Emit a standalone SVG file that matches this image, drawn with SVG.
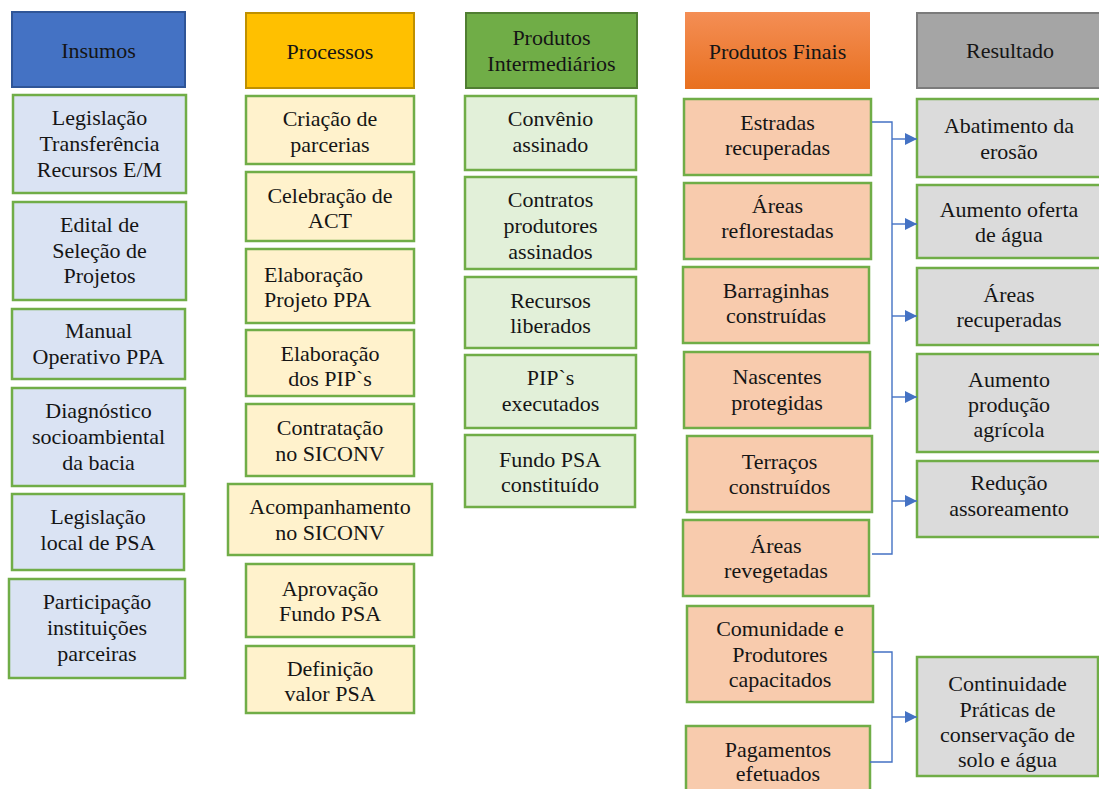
<svg xmlns="http://www.w3.org/2000/svg" width="1099" height="789" viewBox="0 0 1099 789">
<style>
text{font-family:"Liberation Serif","Times New Roman",serif;font-size:22px;fill:#151515;text-anchor:middle}
.b{stroke:#70AD47;stroke-width:2.5}
.ins{fill:#DAE3F3}
.pro{fill:#FFF2CC}
.pi{fill:#E2F0D9}
.pf{fill:#F8CBAD}
.res{fill:#DBDBDB}
.con{fill:none;stroke:#4472C4;stroke-width:1.4}
</style>
<defs>
<linearGradient id="og" x1="0" y1="0" x2="0" y2="1">
<stop offset="0" stop-color="#F48E55"/>
<stop offset="1" stop-color="#E8701F"/>
</linearGradient>
<marker id="ah" markerWidth="12" markerHeight="12" refX="12" refY="6" orient="auto" markerUnits="userSpaceOnUse">
<path d="M0,0 L12,6 L0,12 Z" fill="#4472C4"/>
</marker>
</defs>
<rect width="1099" height="789" fill="#fff"/>

<!-- headers -->
<g id="h-insumos"><rect x="12" y="12" width="173" height="75" fill="#4472C4" stroke="#2F5597" stroke-width="2"/><text x="98.5" y="58">Insumos</text></g>
<g id="h-processos"><rect x="246" y="13" width="168" height="75" fill="#FFC000" stroke="#BF9000" stroke-width="2"/><text x="330" y="59">Processos</text></g>
<g id="h-intermediarios"><rect x="466" y="13" width="171" height="75" fill="#70AD47" stroke="#507E32" stroke-width="2"/><text x="551.5" y="45">Produtos</text><text x="551.5" y="71">Intermediários</text></g>
<g id="h-finais"><rect x="685" y="12" width="185" height="77" fill="url(#og)"/><text x="777.5" y="59">Produtos Finais</text></g>
<g id="h-resultado"><rect x="917" y="13" width="186" height="75" fill="#A5A5A5" stroke="#7B7B7B" stroke-width="2"/><text x="1010" y="58">Resultado</text></g>

<!-- Insumos -->
<g id="i1"><rect class="b ins" x="13" y="95" width="173" height="98"/><text x="99.5" y="125">Legislação</text><text x="99.5" y="151">Transferência</text><text x="99.5" y="177">Recursos E/M</text></g>
<g id="i2"><rect class="b ins" x="13" y="202" width="173" height="98"/><text x="99.5" y="232">Edital de</text><text x="99.5" y="258">Seleção de</text><text x="99.5" y="283">Projetos</text></g>
<g id="i3"><rect class="b ins" x="12" y="309" width="173" height="70"/><text x="98.5" y="338">Manual</text><text x="98.5" y="364">Operativo PPA</text></g>
<g id="i4"><rect class="b ins" x="12" y="388" width="173" height="98"/><text x="98.5" y="418">Diagnóstico</text><text x="98.5" y="444">socioambiental</text><text x="98.5" y="470">da bacia</text></g>
<g id="i5"><rect class="b ins" x="12" y="494" width="172" height="76"/><text x="98" y="524">Legislação</text><text x="98" y="550">local de PSA</text></g>
<g id="i6"><rect class="b ins" x="9" y="579" width="176" height="99"/><text x="97" y="609">Participação</text><text x="97" y="635">instituições</text><text x="97" y="661">parceiras</text></g>

<!-- Processos -->
<g id="p1"><rect class="b pro" x="246" y="96" width="168" height="68"/><text x="330" y="126">Criação de</text><text x="330" y="152">parcerias</text></g>
<g id="p2"><rect class="b pro" x="246" y="172" width="168" height="69"/><text x="330" y="203">Celebração de</text><text x="330" y="228">ACT</text></g>
<g id="p3"><rect class="b pro" x="246" y="249" width="168" height="74"/><text x="264" y="282" style="text-anchor:start">Elaboração</text><text x="264" y="307" style="text-anchor:start">Projeto PPA</text></g>
<g id="p4"><rect class="b pro" x="246" y="330" width="168" height="66"/><text x="330" y="361">Elaboração</text><text x="330" y="386">dos PIP`s</text></g>
<g id="p5"><rect class="b pro" x="246" y="404" width="168" height="72"/><text x="330" y="435">Contratação</text><text x="330" y="461">no SICONV</text></g>
<g id="p6"><rect class="b pro" x="228" y="484" width="204" height="71"/><text x="330" y="514">Acompanhamento</text><text x="330" y="540">no SICONV</text></g>
<g id="p7"><rect class="b pro" x="246" y="564" width="168" height="73"/><text x="330" y="596">Aprovação</text><text x="330" y="621">Fundo PSA</text></g>
<g id="p8"><rect class="b pro" x="246" y="646" width="168" height="67"/><text x="330" y="676">Definição</text><text x="330" y="701">valor PSA</text></g>

<!-- Produtos Intermediarios -->
<g id="m1"><rect class="b pi" x="465" y="96" width="171" height="74"/><text x="550.5" y="126">Convênio</text><text x="550.5" y="152">assinado</text></g>
<g id="m2"><rect class="b pi" x="465" y="177" width="171" height="92"/><text x="550.5" y="207">Contratos</text><text x="550.5" y="233">produtores</text><text x="550.5" y="259">assinados</text></g>
<g id="m3"><rect class="b pi" x="465" y="277" width="171" height="71"/><text x="550.5" y="308">Recursos</text><text x="550.5" y="333">liberados</text></g>
<g id="m4"><rect class="b pi" x="465" y="355" width="171" height="73"/><text x="550.5" y="385">PIP`s</text><text x="550.5" y="411">executados</text></g>
<g id="m5"><rect class="b pi" x="465" y="435" width="170" height="72"/><text x="550" y="467">Fundo PSA</text><text x="550" y="492">constituído</text></g>

<!-- Produtos Finais -->
<g id="f1"><rect class="b pf" x="684" y="99" width="187" height="76"/><text x="777.5" y="130">Estradas</text><text x="777.5" y="155">recuperadas</text></g>
<g id="f2"><rect class="b pf" x="684" y="183" width="187" height="76"/><text x="777.5" y="213">Áreas</text><text x="777.5" y="238">reflorestadas</text></g>
<g id="f3"><rect class="b pf" x="683" y="267" width="186" height="76"/><text x="776" y="298">Barraginhas</text><text x="776" y="323">construídas</text></g>
<g id="f4"><rect class="b pf" x="684" y="352" width="186" height="76"/><text x="777" y="384">Nascentes</text><text x="777" y="410">protegidas</text></g>
<g id="f5"><rect class="b pf" x="687" y="436" width="185" height="76"/><text x="779.5" y="469">Terraços</text><text x="779.5" y="494">construídos</text></g>
<g id="f6"><rect class="b pf" x="683" y="520" width="186" height="76"/><text x="776" y="553">Áreas</text><text x="776" y="578">revegetadas</text></g>
<g id="f7"><rect class="b pf" x="687" y="606" width="186" height="96"/><text x="780" y="636">Comunidade e</text><text x="780" y="662">Produtores</text><text x="780" y="687">capacitados</text></g>
<g id="f8"><rect class="b pf" x="686" y="726" width="184" height="68"/><text x="778" y="757">Pagamentos</text><text x="778" y="781">efetuados</text></g>

<!-- Resultado -->
<g id="r1"><rect class="b res" x="917" y="99" width="186" height="78"/><text x="1009" y="133">Abatimento da</text><text x="1009" y="159">erosão</text></g>
<g id="r2"><rect class="b res" x="917" y="185" width="186" height="73"/><text x="1009" y="217">Aumento oferta</text><text x="1009" y="242">de água</text></g>
<g id="r3"><rect class="b res" x="917" y="268" width="186" height="77"/><text x="1009" y="302">Áreas</text><text x="1009" y="327">recuperadas</text></g>
<g id="r4"><rect class="b res" x="917" y="354" width="186" height="98"/><text x="1009" y="387">Aumento</text><text x="1009" y="412">produção</text><text x="1009" y="437">agrícola</text></g>
<g id="r5"><rect class="b res" x="917" y="461" width="186" height="76"/><text x="1009" y="490">Redução</text><text x="1009" y="516">assoreamento</text></g>
<g id="r6"><rect class="b res" x="917" y="657" width="181" height="119"/><text x="1007.5" y="691">Continuidade</text><text x="1007.5" y="717">Práticas de</text><text x="1007.5" y="742">conservação de</text><text x="1007.5" y="767">solo e água</text></g>

<!-- connectors -->
<g id="connectors">
<path class="con" d="M872,122 H892 V554 H872"/>
<path class="con" d="M892,139 H917" marker-end="url(#ah)"/>
<path class="con" d="M892,224 H917" marker-end="url(#ah)"/>
<path class="con" d="M892,316 H917" marker-end="url(#ah)"/>
<path class="con" d="M892,397 H917" marker-end="url(#ah)"/>
<path class="con" d="M892,501 H917" marker-end="url(#ah)"/>
<path class="con" d="M873,652 H892 V762 H870"/>
<path class="con" d="M892,717 H917" marker-end="url(#ah)"/>
</g>
</svg>
